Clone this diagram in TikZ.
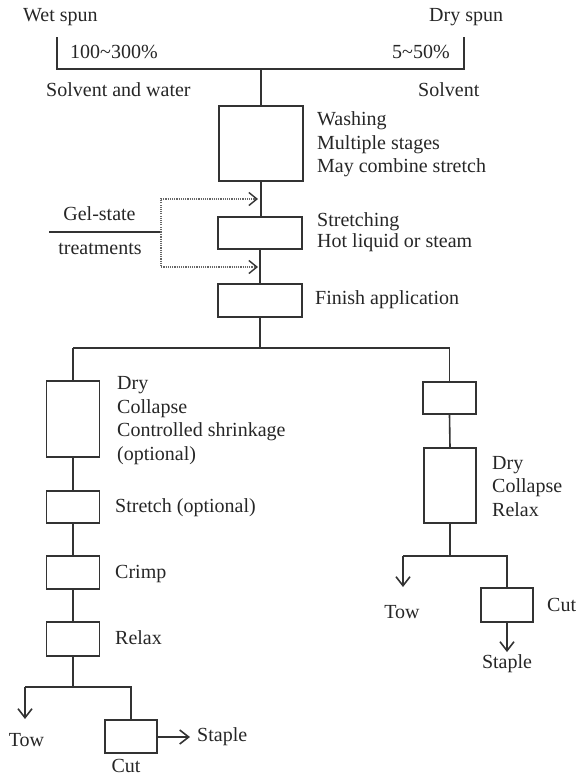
\documentclass[tikz,border=0pt]{standalone}
\usepackage{fontspec}
\setmainfont{Liberation Serif}
\usetikzlibrary{arrows.meta}
\definecolor{ink}{HTML}{262626}
\definecolor{wire}{HTML}{333333}
\tikzset{
  lbl/.style={inner sep=0pt, text=ink, font=\fontsize{20}{23.5}\selectfont},
  lblw/.style={lbl, anchor=west},
  blk/.style={lbl, anchor=west, align=left},
  stagebox/.style={draw=wire, line width=1.6pt, inner sep=0pt, minimum width=#1},
  wireline/.style={draw=wire, line width=1.6pt},
  flow/.style={wireline, -{Straight Barb[length=9pt,width=14pt]}},
  gelflow/.style={draw=black!60, line width=1.4pt, dash pattern=on 1.1pt off 1.1pt,
    -{Straight Barb[length=8pt,width=13pt,line width=1.4pt,color=wire]}},
}
\begin{document}
\begin{tikzpicture}[x=1pt, y=-1pt]
\useasboundingbox (0,0) rectangle (580,777);

% ---- spinning inputs ----
\node[lblw] (wet) at (23,17) {Wet spun};
\node[lblw] (dry) at (429,17) {Dry spun};
\node[lblw] (wetpct) at (70,52) {100\textasciitilde300\%};
\node[lblw] (drypct) at (392,52) {5\textasciitilde50\%};
\node[lblw] (wetsolv) at (46,90) {Solvent and water};
\node[lblw] (drysolv) at (418,90) {Solvent};

\coordinate (wetT) at (57,37);
\coordinate (wetB) at (57,69);
\coordinate (dryT) at (464,37);
\coordinate (dryB) at (464,69);

% ---- main line ----
\node[stagebox=84pt, minimum height=75pt] (wash) at (261,143.5) {};
\node[stagebox=84pt, minimum height=32pt] (stretch) at (260,233) {};
\node[stagebox=84pt, minimum height=33pt] (finish) at (260,300.5) {};

\node[blk] (washtxt) at (317,144.5) {Washing\\Multiple stages\\May combine stretch};
\node[blk, font=\fontsize{20}{21}\selectfont] (stretchtxt) at (317,232.5) {Stretching\\Hot liquid or steam};
\node[lblw] (finishtxt) at (315,300) {Finish application};

\draw[wireline] (wetT) -- (wetB) -- (dryB) -- (dryT);
\coordinate (join) at (wash.north |- wetB);
\draw[wireline] (join) -- (wash.north);
\draw[wireline] (wash.south) -- (wash.south |- stretch.north);
\draw[wireline] (stretch.south) -- (finish.north);

% ---- gel-state treatments ----
\node[lbl] (gel) at (99.5,214) {Gel-state};
\node[lbl] (treat) at (100,249) {treatments};
\coordinate (gelL) at (49,232);
\coordinate (gelJ) at (161,232);
\coordinate (gelUp) at (161,199);
\coordinate (gelDn) at (161,267);
\coordinate (gelUpEnd) at (258,199);
\coordinate (gelDnEnd) at (258,267);
\draw[wireline] (gelL) -- (gelJ);
\draw[gelflow] (gelJ) -- (gelUp) -- (gelUpEnd);
\draw[gelflow] (gelJ) -- (gelDn) -- (gelDnEnd);

% ---- branch ----
\node[stagebox=53pt, minimum height=76pt] (ldry) at (73,419) {};
\node[stagebox=53pt, minimum height=32pt] (rsmall) at (449.5,398) {};
\coordinate (bl) at (ldry.north |- 0,348);
\coordinate (br) at (rsmall.north |- 0,348);
\draw[wireline] (finish.south) -- (finish.south |- bl);
\draw[wireline] (bl) -- (br);
\draw[wireline] (bl) -- (ldry.north);
\draw[wireline] (br) -- (rsmall.north);

% ---- staple / tow line (left) ----
\node[stagebox=53pt, minimum height=32pt] (lstretch) at (73,507) {};
\node[stagebox=53pt, minimum height=33pt] (crimp) at (73,572.5) {};
\node[stagebox=53pt, minimum height=34pt] (relax) at (73,639) {};
\node[stagebox=52pt, minimum height=33pt] (lcut) at (131,736.5) {};

\node[blk, font=\fontsize{20}{23.7}\selectfont] (ldrytxt) at (117,420.5) {Dry\\Collapse\\Controlled shrinkage\\(optional)};
\node[lblw] (lstretchtxt) at (115,508) {Stretch (optional)};
\node[lblw] (crimptxt) at (115,574) {Crimp};
\node[lblw] (relaxtxt) at (115,638) {Relax};

\draw[wireline] (ldry.south) -- (lstretch.north);
\draw[wireline] (lstretch.south) -- (crimp.north);
\draw[wireline] (crimp.south) -- (relax.north);
\coordinate (lj) at (relax.south |- 0,687);
\coordinate (ltowA) at (25,687);
\coordinate (ltowB) at (25,719);
\coordinate (lcutT) at (lcut.north |- lj);
\coordinate (lstapleEnd) at (190,737);
\draw[wireline] (relax.south) -- (lj);
\draw[wireline] (ltowA) -- (lcutT) -- (lcut.north);
\draw[flow] (ltowA) -- (ltowB);
\draw[flow] (lcut.east |- lstapleEnd) -- (lstapleEnd);

\node[lbl] (ltow) at (26.5,740) {Tow};
\node[lbl] (lcuttxt) at (126,766) {Cut};
\node[lblw] (lstaple) at (197,737) {Staple};

% ---- tow / staple line (right) ----
\node[stagebox=52pt, minimum height=75pt] (rdry) at (450,485.5) {};
\node[stagebox=52pt, minimum height=34pt] (rcut) at (507,605) {};
\node[blk] (rdrytxt) at (492,486.5) {Dry\\Collapse\\Relax};

\draw[wireline] (rsmall.south) -- (rdry.north);
\coordinate (rj) at (rdry.south |- 0,556);
\coordinate (rtowA) at (403,556);
\coordinate (rtowB) at (403,587);
\coordinate (rcutT) at (rcut.north |- rj);
\coordinate (rstapleEnd) at (507,652);
\draw[wireline] (rdry.south) -- (rj);
\draw[wireline] (rtowA) -- (rcutT) -- (rcut.north);
\draw[flow] (rtowA) -- (rtowB);
\draw[flow] (rcut.south) -- (rstapleEnd);

\node[lbl] (rtow) at (402,612) {Tow};
\node[lblw] (rcuttxt) at (547,605) {Cut};
\node[lbl] (rstaple) at (507,664) {Staple};
\end{tikzpicture}
\end{document}
